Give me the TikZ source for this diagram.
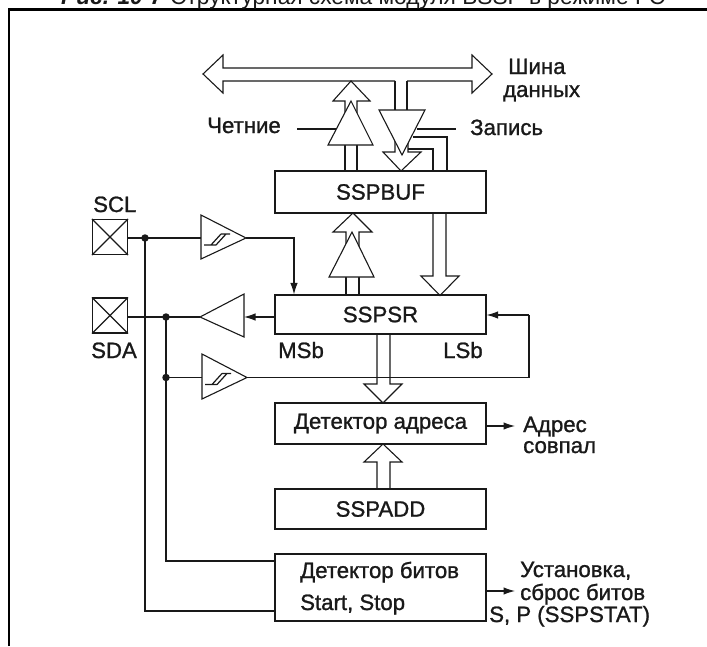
\documentclass[tikz,border=0pt]{standalone}
\usepackage{fontspec}
\setmainfont[FakeBold=1.1]{Liberation Sans}
\newfontfamily\titlefont{Liberation Sans}
\usetikzlibrary{arrows.meta,calc}
\definecolor{ink}{RGB}{25,25,25}
\tikzset{
  x=1pt,y=-1pt,
  ln/.style={line width=1.1pt,draw=ink,line join=miter},
  arr/.style={ln,-{Latex[length=11.5pt,width=7.5pt]}},
  boxn/.style={ln,rectangle,fill=white,minimum width=211pt,inner sep=0pt,font=\fontsize{22.2}{22}\selectfont,text=ink},
  blockarrow/.style={ln},
  gate/.style={ln,fill=white},
  lab/.style={anchor=base west,inner sep=0pt,font=\fontsize{22.2}{22}\selectfont,text=ink},
  padn/.style={ln,rectangle,minimum size=35pt,inner sep=0pt},
  dot/.style={circle,fill=ink,inner sep=0pt,minimum size=7.5pt},
  schmittsym/.pic={
    \draw[line width=1.2pt,draw=ink] (3,7)--(15,7) (10,7)--(20,-4) (15,7)--(25,-4) (20,-4)--(29,-4);
  }
}
\begin{document}
\begin{tikzpicture}
\useasboundingbox (0,0) rectangle (707,646);
% frame and title
\draw[line width=2.8pt,draw=black] (9,646)--(9,9.5)--(707,9.5);
\node[anchor=base west,inner sep=0pt,font=\titlefont\fontsize{22.7}{22}\selectfont,text=ink] (title) at (61,4)
  {\textbf{\textit{Рис. 10-7}} Структурная схема модуля BSSP в режиме I²C};
% boxes
\node[boxn,minimum height=42pt] (buf) at (380.5,192) {SSPBUF};
\node[boxn,minimum height=39pt] (sr) at (380.5,314.5) {SSPSR};
\node[boxn,minimum height=41pt] (det) at (380.5,423.5) {Детектор адреса};
\node[boxn,minimum height=40pt] (add) at (380.5,509) {SSPADD};
\node[boxn,minimum height=67pt] (bits) at (380.5,587.5) {};
\node[lab] (bitsa) at (300,578) {Детектор битов};
\node[lab] (bitsb) at (300,610) {Start, Stop};
% pads
\node[padn] (scl) at (110,237) {};
\node[padn] (sda) at (110,315.5) {};
\draw[ln] (scl.north west)--(scl.south east) (scl.north east)--(scl.south west);
\draw[ln] (sda.north west)--(sda.south east) (sda.north east)--(sda.south west);
\node[lab] (scllab) at (93,212) {SCL};
\node[lab] (sdalab) at (91,358) {SDA};
\node[lab] (msb) at (278,358) {MSb};
\node[lab] (lsb) at (443,358) {LSb};
% key coordinates
\coordinate (s1in) at (201,238);
\coordinate (s1out) at (246,238);
\coordinate (s2in) at (202,377.5);
\coordinate (s2out) at (247,377.5);
\coordinate (drvtip) at (200,317);
\coordinate (drvbase) at (244,317);
\coordinate (j1) at (145,238);
\coordinate (j2) at (166,317);
\coordinate (j3) at (166,377.5);
% data bus
\coordinate (writeA) at (395,81);
\coordinate (writeB) at (407,81);
\draw[ln] (writeA)--(223,81)--(223,93)--(203,74)--(223,55)--(223,68)--(472,68)--(472,55)--(492,74)--(472,93)--(472,81)--(writeB);
\node[lab] (shina) at (508,74) {Шина};
\node[lab] (dannyh) at (503,97) {данных};
\node[lab] (chet) at (207,133) {Четние};
\node[lab] (zap) at (470,135) {Запись};
% read path: SSPBUF to bus
\draw[ln] (345,171)--(345,145) (357,171)--(357,145);
\draw[blockarrow,fill=white] (351,81)--(370,101)--(357,101)--(357,125)--(345,125)--(345,101)--(333,101)--cycle;
\draw[gate] (351,101)--(373,145)--(328,145)--cycle;
\draw[ln] (297,129)--(336,129);
% write path: bus to SSPBUF
\draw[blockarrow,fill=white] (401,171)--(421,152)--(408,152)--(408,130)--(395,130)--(395,152)--(383,152)--cycle;
\draw[ln] (writeA)--(395,110) (writeB)--(407,110);
\draw[ln] (417,129)--(456,129);
\draw[ln] (413,137)--(447,137)--(447,171);
\draw[ln] (408,149)--(433,149)--(433,171);
\draw[gate] (379,110)--(425,110)--(402,155)--cycle;
% SSPBUF to SSPSR
\draw[blockarrow] (433,213)--(433,276)--(421,276)--(440,295.5)--(459,276)--(446,276)--(446,213);
% SSPSR to SSPBUF
\draw[ln] (346,295)--(346,277) (359,295)--(359,277);
\draw[blockarrow,fill=white] (353,213)--(372,232)--(359,232)--(359,255)--(346,255)--(346,232)--(333,232)--cycle;
\draw[gate] (352,232)--(374,277)--(329,277)--cycle;
% SSPSR to address detector
\draw[blockarrow] (377,334)--(377,384)--(364,384)--(383,403)--(402,384)--(390,384)--(390,334);
% SSPADD to address detector
\draw[blockarrow] (383,444)--(402,462)--(390,462)--(390,489) (377,489)--(377,462)--(364,462)--(383,444);
% SCL path
\draw[ln] (scl.east |- j1)--(s1in);
\draw[arr] (s1out)-|(294,0|-sr.north);
\draw[gate] (201,215)--(246,238)--(201,259)--cycle;
\pic at (s1in) {schmittsym};
% SDA output
\draw[ln] (sda.east |- j2)--(drvtip);
\draw[arr] (sr.west |- drvbase)--(drvbase);
\draw[gate] (drvtip)--(244,294)--(244,337)--cycle;
% SDA input
\draw[ln] (j3)--(s2in);
\draw[gate] (202,354)--(247,377.5)--(202,399)--cycle;
\pic at (s2in) {schmittsym};
\draw[ln] (s2out)--(529,377.5)--(529,315);
\draw[arr] (529,315)--(sr.east |- 529,315);
% to bit detector
\draw[ln] (j1)--(145,611)--(bits.west |- 145,611);
\draw[ln] (j2)--(166,561)--(bits.west |- 166,561);
\node[dot] (d1) at (j1) {};
\node[dot] (d2) at (j2) {};
\node[dot] (d3) at (j3) {};
% outputs
\draw[arr] (det.east |- 0,426)--(515,426);
\draw[arr] (bits.east |- 0,591)--(515,591);
\node[lab] (adr) at (523,432) {Адрес};
\node[lab] (sov) at (523,453) {совпал};
\node[lab] (ust) at (520,577) {Установка,};
\node[lab] (sbr) at (520,600) {сброс битов};
\node[lab] (sp) at (489,622) {S, P (SSPSTAT)};
\end{tikzpicture}
\end{document}
